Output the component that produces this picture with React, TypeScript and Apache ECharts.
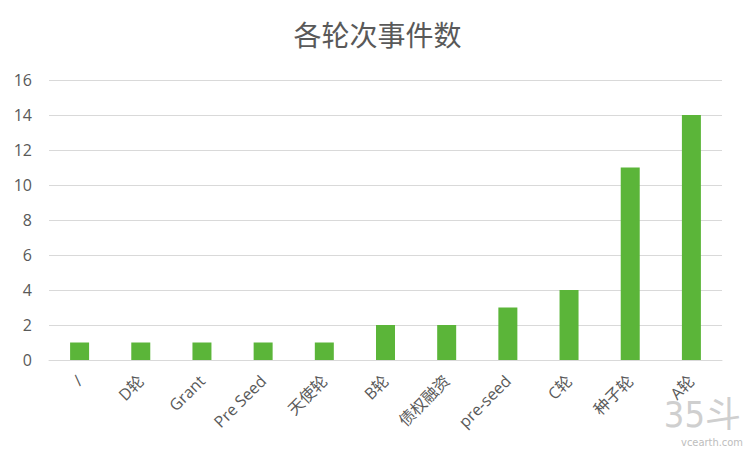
import React, { useEffect, useRef } from "react";
import * as echarts from "echarts";

const categories = ["/", "D轮", "Grant", "Pre Seed", "天使轮", "B轮", "债权融资", "pre-seed", "C轮", "种子轮", "A轮"];
const counts = [1, 1, 1, 1, 1, 2, 2, 3, 4, 11, 14];
const titleText = "各轮次事件数";

export default function App() {
  const ref = useRef<HTMLDivElement>(null);
  useEffect(() => {
    document.body.style.margin = "0";
    if (!ref.current) return;
    const chart = echarts.init(ref.current, null, { renderer: "svg" });
    const font = "'Open Sans', 'Noto Sans CJK SC', sans-serif";
    chart.setOption({
      animation: false,
      backgroundColor: "#ffffff",
      title: {
        text: titleText,
        left: "center",
        top: 16,
        textStyle: { fontSize: 28, fontWeight: "normal", color: "#595959", fontFamily: font },
      },
      grid: { left: 49, right: 33, top: 80, bottom: 97, containLabel: false },
      xAxis: {
        type: "category",
        data: categories,
        axisLine: { lineStyle: { color: "#D9D9D9" } },
        axisTick: { show: false },
        axisLabel: { rotate: 45, color: "#595959", fontSize: 16, margin: 18, fontFamily: font, interval: 0, padding: [0, 0, 0, 0] },
      },
      yAxis: {
        type: "value",
        min: 0,
        max: 16,
        interval: 2,
        axisLine: { show: false },
        axisTick: { show: false },
        splitLine: { lineStyle: { color: "#D9D9D9", width: 1 } },
        axisLabel: { color: "#595959", fontSize: 16, margin: 17, fontFamily: font },
      },
      series: [
        {
          type: "bar",
          data: counts,
          barWidth: 19,
          itemStyle: { color: "#5BB539" },
        },
      ],
      graphic: [
        {
          type: "text",
          right: 14,
          top: 396,
          style: { text: "35斗", fontSize: 36, fill: "#CFCFCF", fontFamily: "'DejaVu Sans Condensed', 'Noto Sans CJK SC', sans-serif" },
        },
        {
          type: "text",
          right: 12,
          top: 437,
          style: { text: "vcearth.com", fontSize: 11, fill: "#BDBDBD", fontFamily: "'DejaVu Sans Condensed', sans-serif" },
        },
      ],
    });
    return () => chart.dispose();
  }, []);
  return <div ref={ref} style={{ width: 755, height: 457 }} />;
}
